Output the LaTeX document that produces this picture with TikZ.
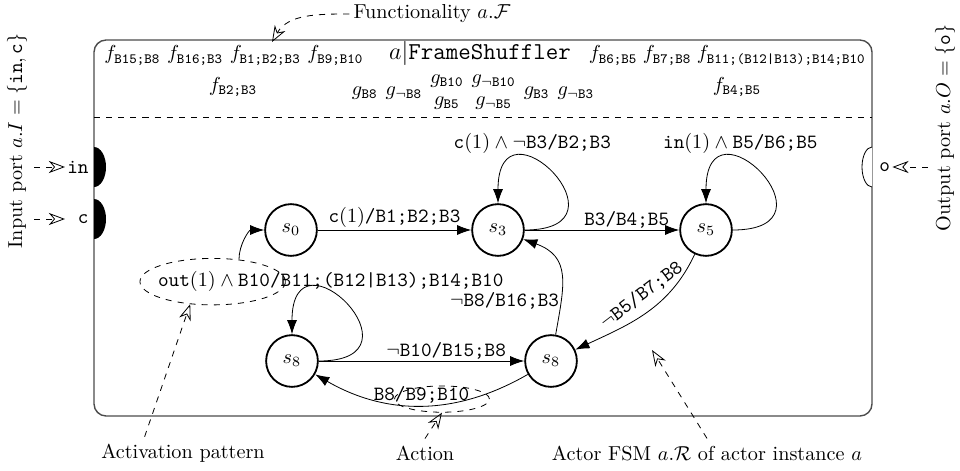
\documentclass[tikz,border=0pt]{standalone}
\usepackage{amsmath}
\usetikzlibrary{arrows.meta,shapes.geometric}
\newcommand{\fsub}[1]{f_{\texttt{#1}}}
\newcommand{\gsub}[1]{g_{\texttt{#1}}}
\newcommand{\gneg}[1]{g_{\neg\texttt{#1}}}
\tikzset{
  state/.style={circle, draw, line width=0.9pt, minimum size=0.9cm, inner sep=0pt},
  trans/.style={-{Latex[length=7pt,width=5pt]}},
  note/.style={dashed, -{Stealth[open,length=8pt,width=6pt]}},
  elab/.style={inner sep=0.8pt},
  hilite/.style={draw, dashed, ellipse, inner sep=0pt},
  portlbl/.style={anchor=east, text width=10.5pt, align=right, inner sep=1pt}
}

\begin{document}
\begin{tikzpicture}[x=0.0174cm, y=-0.0174cm]
		%%%%% START %%%%%
		\useasboundingbox (0,0) rectangle (960,470);
		
		% actor box
		\draw[line width=0.7pt, black!70, rounded corners=6pt] (94,40) rectangle (872,416);
		\draw[dashed] (94,117) -- (872,117);
		
		% ports
		\fill (94,147) arc[start angle=-90, end angle=90, x radius=12, y radius=20];
		\fill (94,199) arc[start angle=-90, end angle=90, x radius=12, y radius=20];
		\draw[fill=white] (872,147) arc[start angle=-90, end angle=-270, x radius=10, y radius=20];
		
		\node[rotate=90] (inlbl) at (17,141) {Input port $a.I=\{\texttt{in},\texttt{c}\}$};
		\node[rotate=90] (outlbl) at (945,128) {Output port $a.O=\{\texttt{o}\}$};
		\node[portlbl] (pin) at (91,167) {\texttt{in}};
		\node[portlbl] (pc) at (91,219) {\texttt{c}};
		\node[anchor=west, inner sep=1pt] (po) at (877,167) {\texttt{o}};
		\draw[note] (inlbl.south |- pin) -- (pin.west);
		\draw[note] (inlbl.south |- pc) -- (pc.west);
		\draw[note] (outlbl.north |- po) -- (po.east);
		
		% functionality
		\node[inner sep=2pt] (func) at (432,14) {Functionality $a.\mathcal{F}$};
		\coordinate (ftip) at (272,42);
		\draw[note] (func.west) to[out=180, in=60] (ftip);
		
		\node[anchor=base west, inner sep=0pt] (fleft) at (104,60) {$\fsub{B15;B8}$ $\fsub{B16;B3}$ $\fsub{B1;B2;B3}$ $\fsub{B9;B10}$};
		\node[anchor=base, inner sep=0pt] (title) at (480,60) {\large $a|$\texttt{FrameShuffler}};
		\node[anchor=base east, inner sep=0pt] (fright) at (866,60) {$\fsub{B6;B5}\;\fsub{B7;B8}\;\fsub{B11;(B12|B13);B14;B10}$};
		\node[anchor=base, inner sep=0pt] (fb23) at (233,91) {$\fsub{B2;B3}$};
		\node[anchor=base, inner sep=0pt] (fb45) at (737,91) {$\fsub{B4;B5}$};
		\node[anchor=base, inner sep=0pt] (guards) at (473,95) {$\gsub{B8}\hspace{4pt}\gneg{B8}\hspace{4pt}\begin{array}{@{}c@{}}\gsub{B10}\\[-1pt]\gsub{B5}\end{array}\hspace{4pt}\begin{array}{@{}c@{}}\gneg{B10}\\[-1pt]\gneg{B5}\end{array}\hspace{4pt}\gsub{B3}\hspace{4pt}\gneg{B3}$};
		
		% FSM
		\node[state] (s0) at (291,230) {$s_0$};
		\node[state] (s3) at (498,230) {$s_3$};
		\node[state] (s5) at (706,230) {$s_5$};
		\node[state] (s8a) at (292,361) {$s_8$};
		\node[state] (s8b) at (551,361) {$s_8$};
		
		\draw[trans] (s0) -- node[above, elab] (t03) {\texttt{c}$(1)$\texttt{/B1;B2;B3}} (s3);
		\draw[trans] (s3) -- node[above, elab, pos=0.66] (t35) {\texttt{B3/B4;B5}} (s5);
		\draw[trans] (s3.east) .. controls +(0:1.95cm) and +(90:1.95cm) .. node[above, pos=0.65] (t33) {\texttt{c}$(1)\wedge\neg$\texttt{B3/B2;B3}} (s3.north);
		\draw[trans] (s5.east) .. controls +(0:1.95cm) and +(90:1.95cm) .. node[above, pos=0.65] (t55) {\texttt{in}$(1)\wedge{}$\texttt{B5/B6;B5}} (s5.north);
		\draw[trans] (s5) to[out=-115, in=25] node[sloped, above, inner sep=4pt, pos=0.45] (t58) {$\neg$\texttt{B5/B7;B8}} (s8b);
		\draw[trans] (s8b) to[out=80, in=-20, looseness=1.3] node[left, elab, pos=0.25] (t83) {$\neg$\texttt{B8/B16;B3}} (s3);
		\draw[trans] (s8a) -- node[above, elab, pos=0.62] (t88) {$\neg$\texttt{B10/B15;B8}} (s8b);
		\draw[trans] (s8b) to[bend left=30] node[above, elab] (t8b8a) {\texttt{B8/B9;B10}} (s8a);
		\draw[trans] (s8a.east) .. controls +(0:1.95cm) and +(90:1.95cm) .. node[above, elab, pos=0.62] (t8a) {\texttt{out}$(1)\wedge{}$\texttt{B10/B11;(B12|B13);B14;B10}} (s8a.north);
		
		\node[hilite, minimum width=72pt, minimum height=23pt] (actpat) at ([xshift=28pt]t8a.west) {};
		\node[hilite, minimum width=47pt, minimum height=13pt] (actn) at ([xshift=-14.5pt, yshift=-2pt]t8b8a.east) {};
		\draw[trans] (actpat.40) to[out=90, in=180] (s0);
		
		% annotations
		\node (actlbl) at (183,453) {Activation pattern};
		\node (actnlbl) at (425,453) {Action};
		\node (fsmlbl) at (707,453) {Actor FSM $a.\mathcal{R}$ of actor instance $a$};
		\coordinate (fsmtip) at (652,350);
		\draw[note] ([xshift=-19pt]actlbl.north) -- (actpat.225);
		\draw[note] (actnlbl.north) -- (actn.south);
		\draw[note] (fsmlbl.north) -- (fsmtip);
		
		%%%%% END %%%%%
\end{tikzpicture}
\end{document}
